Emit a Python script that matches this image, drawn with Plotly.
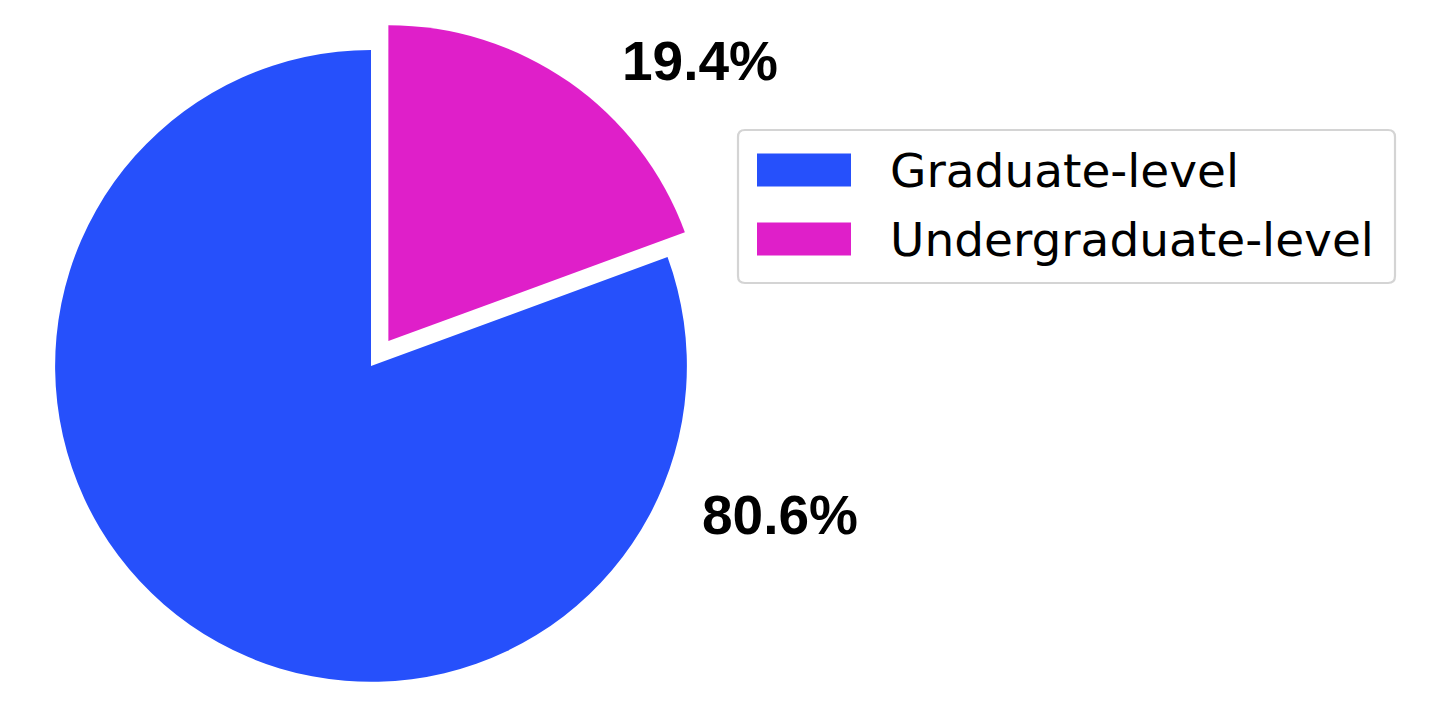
import plotly.graph_objects as go

# Data
categories = ["Graduate-level", "Undergraduate-level"]
values = [80.6, 19.4]
colors = ["#2650FB", "#DF1FC9"]
pulls = [0, 0.096]

W, H = 1440, 708

def px(x):
    return x / W

def py(y):
    return 1 - y / H

total = sum(values)
# rotate so that the second slice starts at 12 o'clock going clockwise
start_rot = 360 * values[1] / total

fig = go.Figure()
fig.add_trace(go.Pie(
    labels=categories,
    values=values,
    marker=dict(colors=colors, line=dict(width=0)),
    pull=pulls,
    sort=False,
    direction="clockwise",
    rotation=start_rot,
    textinfo="none",
    hoverinfo="label+percent",
    showlegend=False,
    domain=dict(x=[0, 726 / W], y=[0.0054, 0.9834]),
))

# Percentage labels
label_pos = [(772, 507), (692, 53)]
for v, (lx, ly) in zip(values, label_pos):
    fig.add_annotation(
        x=px(lx), y=py(ly), xref="paper", yref="paper",
        text=f"{100 * v / total:.1f}%", showarrow=False,
        xanchor="center", yanchor="middle",
        font=dict(family="Liberation Sans, Arial, sans-serif", size=55, color="black", weight="bold"),
    )

# Legend frame with rounded corners
x0, x1, y0, y1, r = 730, 1387, 122, 275, 7
path = (
    f"M {px(x0 + r)},{py(y0)} L {px(x1 - r)},{py(y0)} "
    f"Q {px(x1)},{py(y0)} {px(x1)},{py(y0 + r)} "
    f"L {px(x1)},{py(y1 - r)} Q {px(x1)},{py(y1)} {px(x1 - r)},{py(y1)} "
    f"L {px(x0 + r)},{py(y1)} Q {px(x0)},{py(y1)} {px(x0)},{py(y1 - r)} "
    f"L {px(x0)},{py(y0 + r)} Q {px(x0)},{py(y0)} {px(x0 + r)},{py(y0)} Z"
)
shapes = [dict(
    type="path", xref="paper", yref="paper", path=path,
    line=dict(color="#d4d4d4", width=2.2), fillcolor="white", layer="below",
)]
legend_rows = [162, 231]
for cat, col, cy in zip(categories, colors, legend_rows):
    shapes.append(dict(
        type="rect", xref="paper", yref="paper",
        x0=px(749), x1=px(843), y0=py(cy + 16.5), y1=py(cy - 16.5),
        line=dict(width=0), fillcolor=col, layer="above",
    ))
    fig.add_annotation(
        x=px(880), y=py(cy), xref="paper", yref="paper",
        text=cat, showarrow=False, xanchor="left", yanchor="middle",
        font=dict(family="DejaVu Sans, sans-serif", size=47, color="black"),
    )

fig.update_layout(
    width=W, height=H,
    margin=dict(l=0, r=0, t=0, b=0),
    paper_bgcolor="white",
    plot_bgcolor="white",
    shapes=shapes,
    showlegend=False,
)

fig.write_html("out.html")
